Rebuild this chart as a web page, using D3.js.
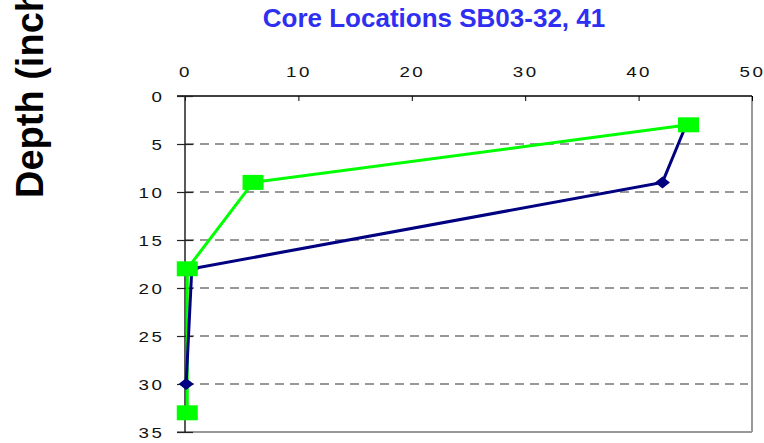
<!DOCTYPE html>
<html>
<head>
<meta charset="utf-8">
<script src="https://cdn.jsdelivr.net/npm/d3@7"></script>
<style>
  body { margin: 0; background: #fff; }
  svg { display: block; font-family: Arial, "Liberation Sans", sans-serif; }
</style>
</head>
<body>
<svg width="764" height="443"></svg>
<script>
// depth profile, two cores

var xTicks = [0, 10, 20, 30, 40, 50];
var yTicks = [0, 5, 10, 15, 20, 25, 30, 35];

// core 1 (navy, diamonds)
var depthA = [3, 9, 18, 30];
var valueA = [44.2, 42.1, 0.6, 0.1];

// core 2 (green, squares)
var depthB = [3, 9, 18, 33];
var valueB = [44.4, 6.0, 0.2, 0.2];

var svg = d3.select("svg");

var x = d3.scaleLinear().domain([0, 50]).range([185, 752]);
var y = d3.scaleLinear().domain([0, 35]).range([96, 432]);

// title
svg.append("text")
    .attr("x", 434).attr("y", 27)
    .attr("text-anchor", "middle")
    .attr("font-size", 26).attr("font-weight", "bold")
    .attr("fill", "#2f2ff2")
    .text("Core Locations SB03-32, 41");

// y title (runs off the top edge, same as the original)
svg.append("text")
    .attr("transform", "translate(43,198) rotate(-90)")
    .attr("text-anchor", "start")
    .attr("font-size", 38).attr("font-weight", "bold")
    .attr("fill", "#000")
    .text("Depth (inches)");

// dashed grid
svg.append("g").selectAll("line")
    .data(yTicks.filter(function(d) { return d > 0 && d < 35; }))
    .enter().append("line")
    .attr("x1", x(0)).attr("x2", x(50) - 4)
    .attr("y1", function(d) { return y(d); })
    .attr("y2", function(d) { return y(d); })
    .attr("stroke", "#333")
    .attr("stroke-width", 1.1)
    .attr("stroke-dasharray", "9,6");

// right + bottom frame (grey)
svg.append("line")
    .attr("x1", x(50)).attr("x2", x(50))
    .attr("y1", y(0)).attr("y2", y(35))
    .attr("stroke", "#999").attr("stroke-width", 2);
svg.append("line")
    .attr("x1", x(0) - 8).attr("x2", x(50))
    .attr("y1", y(35)).attr("y2", y(35))
    .attr("stroke", "#999").attr("stroke-width", 2);

// top axis
var xAxis = svg.append("g")
    .attr("transform", "translate(0," + y(0) + ")")
    .call(d3.axisTop(x).tickValues(xTicks).tickSize(-5).tickSizeOuter(0));
xAxis.select(".domain").remove();
xAxis.append("line")
    .attr("x1", x(0) - 8).attr("x2", x(50))
    .attr("stroke", "#000").attr("stroke-width", 1.5);
xAxis.selectAll(".tick line").attr("stroke", "#000");
xAxis.selectAll(".tick text")
    .attr("y", -19).attr("dy", 0)
    .attr("font-size", 15).attr("font-family", "Arial, 'Liberation Sans', sans-serif")
    .attr("letter-spacing", 2)
    .attr("transform", "scale(1.25,1)")
    .attr("fill", "#111");

// left axis
var yAxis = svg.append("g")
    .attr("transform", "translate(" + x(0) + ",0)")
    .call(d3.axisLeft(y).tickValues(yTicks).tickSize(0).tickSizeOuter(0));
yAxis.select(".domain").remove();
yAxis.append("line")
    .attr("y1", y(0)).attr("y2", y(35))
    .attr("stroke", "#222").attr("stroke-width", 1.5);
yAxis.selectAll(".tick").append("line")
    .attr("x1", -8).attr("x2", 8)
    .attr("stroke", "#222").attr("stroke-width", 1.2);
yAxis.selectAll(".tick text")
    .attr("x", -16.5).attr("dy", "0.35em")
    .attr("font-size", 15).attr("font-family", "Arial, 'Liberation Sans', sans-serif")
    .attr("letter-spacing", 2)
    .attr("transform", "scale(1.25,1)")
    .attr("fill", "#111");

var ptsA = depthA.map(function(d, i) { return { depth: d, value: valueA[i] }; });
var ptsB = depthB.map(function(d, i) { return { depth: d, value: valueB[i] }; });

var line = d3.line()
    .x(function(d) { return x(d.value); })
    .y(function(d) { return y(d.depth); });

svg.append("path").datum(ptsB)
    .attr("d", line).attr("fill", "none")
    .attr("stroke", "#00ff00").attr("stroke-width", 3);
svg.append("path").datum(ptsA)
    .attr("d", line).attr("fill", "none")
    .attr("stroke", "#000080").attr("stroke-width", 3);

// diamonds
svg.append("g").selectAll("path")
    .data(ptsA).enter().append("path")
    .attr("d", "M-7.5,0L0,-6L7.5,0L0,6Z")
    .attr("transform", function(d) { return "translate(" + x(d.value) + "," + y(d.depth) + ")"; })
    .attr("fill", "#000080");

// squares (wider than tall, like the original)
svg.append("g").selectAll("rect")
    .data(ptsB).enter().append("rect")
    .attr("x", function(d) { return x(d.value) - 10.5; })
    .attr("y", function(d) { return y(d.depth) - 7.5; })
    .attr("width", 21).attr("height", 15)
    .attr("fill", "#00ff00");
</script>
</body>
</html>
